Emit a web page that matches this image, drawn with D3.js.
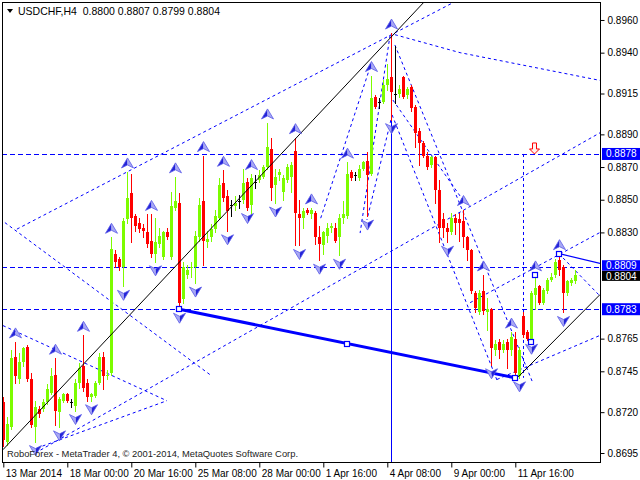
<!DOCTYPE html>
<html><head><meta charset="utf-8">
<script src="https://cdn.jsdelivr.net/npm/d3@7"></script>
<style>body{margin:0;background:#fff}svg{display:block}</style>
</head><body>
<svg id="chart" width="640" height="480"></svg>
<script>
// ---------- DATA ----------
const titleText = "USDCHF,H4  0.8800 0.8807 0.8799 0.8804";
const opens  = [0.8726,0.8702,0.8711,0.8754,0.8740,0.8751,0.8760,0.8740,0.8711,0.8722,0.8722,0.8726,0.8732,0.8743,0.8720,0.8727,0.8731,0.8726,0.8724,0.8738,0.8748,0.8738,0.8729,0.8730,0.8738,0.8754,0.8742,0.8744,0.8817,0.8814,0.8809,0.8838,0.8854,0.8840,0.8836,0.8833,0.8830,0.8825,0.8817,0.8823,0.8815,0.8830,0.8815,0.8845,0.8848,0.8789,0.8804,0.8808,0.8809,0.8827,0.8849,0.8824,0.8827,0.8832,0.8839,0.8860,0.8852,0.8847,0.8846,0.8849,0.8850,0.8861,0.8847,0.8861,0.8862,0.8864,0.8870,0.8881,0.8859,0.8865,0.8855,0.8862,0.8864,0.8880,0.8841,0.8839,0.8844,0.8841,0.8842,0.8827,0.8822,0.8828,0.8833,0.8833,0.8827,0.8839,0.8840,0.8867,0.8865,0.8863,0.8869,0.8874,0.8866,0.8913,0.8910,0.8910,0.8920,0.8925,0.8915,0.8915,0.8925,0.8914,0.8919,0.8907,0.8892,0.8885,0.8877,0.8871,0.8876,0.8856,0.8838,0.8833,0.8830,0.8839,0.8838,0.8837,0.8827,0.8819,0.8793,0.8781,0.8794,0.8781,0.8783,0.8758,0.8763,0.8758,0.8763,0.8758,0.8765,0.8742,0.8779,0.8769,0.8765,0.8792,0.8797,0.8787,0.8794,0.8801,0.8804,0.8813,0.8809,0.8793,0.8799,0.8800];
const highs  = [0.8729,0.8717,0.8758,0.8763,0.8756,0.8760,0.8761,0.8744,0.8727,0.8724,0.8728,0.8737,0.8747,0.8753,0.8729,0.8732,0.8732,0.8728,0.8740,0.8750,0.8767,0.8740,0.8732,0.8739,0.8756,0.8757,0.8746,0.8827,0.8819,0.8815,0.8839,0.8867,0.8866,0.8841,0.8839,0.8835,0.8841,0.8841,0.8839,0.8833,0.8831,0.8833,0.8855,0.8864,0.8854,0.8812,0.8810,0.8812,0.8831,0.8851,0.8877,0.8831,0.8835,0.8844,0.8863,0.8868,0.8856,0.8850,0.8852,0.8853,0.8869,0.8863,0.8866,0.8865,0.8868,0.8871,0.8897,0.8888,0.8869,0.8869,0.8865,0.8872,0.8873,0.8888,0.8850,0.8845,0.8845,0.8845,0.8843,0.8834,0.8831,0.8836,0.8836,0.8836,0.8841,0.8849,0.8873,0.8868,0.8867,0.8871,0.8874,0.8879,0.8926,0.8914,0.8912,0.8923,0.8933,0.8952,0.8944,0.8920,0.8926,0.8919,0.8920,0.8908,0.8894,0.8886,0.8879,0.8877,0.8877,0.8862,0.8842,0.8836,0.8842,0.8841,0.8842,0.8844,0.8828,0.8820,0.8794,0.8795,0.8804,0.8790,0.8784,0.8764,0.8765,0.8764,0.8765,0.8769,0.8769,0.8760,0.8781,0.8770,0.8794,0.8804,0.8798,0.8796,0.8802,0.8805,0.8814,0.8817,0.8810,0.8801,0.8802,0.8807];
const lows   = [0.8699,0.8700,0.8710,0.8738,0.8738,0.8748,0.8739,0.8711,0.8702,0.8717,0.8721,0.8725,0.8731,0.8712,0.8711,0.8726,0.8726,0.8723,0.8721,0.8735,0.8733,0.8727,0.8727,0.8729,0.8737,0.8734,0.8740,0.8743,0.8809,0.8807,0.8797,0.8836,0.8824,0.8831,0.8830,0.8827,0.8821,0.8815,0.8812,0.8821,0.8814,0.8826,0.8814,0.8844,0.8783,0.8787,0.8802,0.8803,0.8799,0.8825,0.8810,0.8821,0.8825,0.8830,0.8838,0.8849,0.8831,0.8840,0.8844,0.8845,0.8848,0.8844,0.8840,0.8857,0.8861,0.8863,0.8869,0.8850,0.8848,0.8862,0.8850,0.8861,0.8855,0.8822,0.8822,0.8833,0.8841,0.8839,0.8823,0.8813,0.8817,0.8824,0.8830,0.8824,0.8816,0.8836,0.8839,0.8862,0.8862,0.8862,0.8868,0.8840,0.8865,0.8906,0.8906,0.8909,0.8917,0.8899,0.8909,0.8913,0.8912,0.8912,0.8904,0.8882,0.8871,0.8876,0.8869,0.8870,0.8848,0.8824,0.8827,0.8824,0.8829,0.8829,0.8825,0.8821,0.8813,0.8793,0.8781,0.8780,0.8780,0.8770,0.8749,0.8755,0.8753,0.8757,0.8747,0.8755,0.8741,0.8741,0.8766,0.8764,0.8764,0.8783,0.8786,0.8786,0.8793,0.8800,0.8803,0.8804,0.8781,0.8792,0.8798,0.8799];
const closes = [0.8703,0.8713,0.8753,0.8742,0.8751,0.8759,0.8740,0.8712,0.8723,0.8719,0.8726,0.8734,0.8742,0.8721,0.8728,0.8731,0.8727,0.8726,0.8738,0.8747,0.8735,0.8729,0.8731,0.8738,0.8754,0.8742,0.8743,0.8820,0.8812,0.8809,0.8837,0.8851,0.8839,0.8834,0.8832,0.8831,0.8823,0.8817,0.8824,0.8828,0.8830,0.8827,0.8846,0.8849,0.8787,0.8809,0.8807,0.8809,0.8828,0.8847,0.8825,0.8826,0.8832,0.8840,0.8859,0.8851,0.8843,0.8847,0.8848,0.8849,0.8860,0.8845,0.8863,0.8861,0.8865,0.8870,0.8882,0.8857,0.8864,0.8867,0.8863,0.8870,0.8871,0.8842,0.8839,0.8843,0.8842,0.8844,0.8827,0.8823,0.8830,0.8833,0.8834,0.8825,0.8839,0.8841,0.8866,0.8863,0.8865,0.8869,0.8873,0.8865,0.8912,0.8907,0.8910,0.8920,0.8924,0.8916,0.8915,0.8918,0.8913,0.8918,0.8906,0.8891,0.8885,0.8877,0.8870,0.8876,0.8856,0.8833,0.8833,0.8830,0.8839,0.8836,0.8836,0.8827,0.8819,0.8794,0.8784,0.8793,0.8782,0.8783,0.8759,0.8762,0.8758,0.8762,0.8758,0.8766,0.8744,0.8758,0.8767,0.8765,0.8793,0.8796,0.8787,0.8795,0.8801,0.8803,0.8812,0.8807,0.8793,0.8800,0.8801,0.8804];

const xTickBars   = [0,16,32,48,64,80,96,112,128];
const xTickLabels = ["13 Mar 2014","18 Mar 00:00","20 Mar 16:00","25 Mar 08:00","28 Mar 00:00","1 Apr 16:00","4 Apr 08:00","9 Apr 00:00","11 Apr 16:00"];
const yTicks = [0.8960,0.8940,0.8915,0.8890,0.8870,0.8850,0.8830,0.8765,0.8745,0.8720,0.8695];
const levelLines = [0.8878,0.8809,0.8783];
const lastPrice = 0.8804;

const upFractals   = [3,13,20,27,31,37,43,50,55,62,66,73,77,86,92,97,115,120,127,133,139];
const downFractals = [8,14,18,22,30,38,44,48,56,61,68,74,79,84,91,97,111,122,129,132,140];

// dotted trend lines: [bar, price] anchors
const dottedLines = [
  [[3.4,0.8832],[116.7,0.8976]],
  [[0.4,0.8836],[52.2,0.8742]],
  [[-0.1,0.8773],[40.9,0.8727]],
  [[8.4,0.8698],[40.9,0.8727]],
  [[8.0,0.8695],[149.2,0.8891]],
  [[116.7,0.8787],[149.2,0.8830]],
  [[123.4,0.8740],[149.2,0.8767]],
  [[97.9,0.8951],[114.2,0.8940],[149.2,0.8923]],
  [[138.9,0.8817],[149.2,0.8791]],
  [[97.9,0.89447],[132.4,0.87378]],
  [[97.2,0.89019],[123.4,0.87397]],
  [[97.4,0.89110],[114.9,0.88498]],
  [[96.9,0.88988],[90.9,0.88376]],
  [[96.7,0.89508],[89.2,0.88296]],
  [[91.7,0.89312],[79.2,0.88376]]
];
const verticalDashed = [[130.0,0.8878,0.8741]];
const blackLines = [
  [[-0.1,0.8697],[105.2,0.8971]],
  [[128.7,0.87415],[149.2,0.8792]]
];
const thickLine = [[44,0.8783],[128,0.8741]];
const thinBlueLine = [[139,0.8817],[149.2,0.8811]];
const verticalSolid = {bar:97, from:0.8952};
const squares = [[44,0.8783],[86,0.8762],[128,0.8741],[132,0.8763],[133,0.8804],[139,0.8817]];
const sellArrow = [132.8,0.8878];

// ---------- DRAW ----------
const svg = d3.select("#chart");
const L=2,R=600,T=2,B=462;
const x = d3.scaleLinear().domain([0,149.175]).range([3.3,600]);
const y = d3.scaleLinear().domain([0.86895,0.89710]).range([B,T]);
const font = "Liberation Sans, Arial, sans-serif";
const BLUE = "#0000ff", GREEN="#7cfc00", RED="#ff0000";

svg.append("rect").attr("width",640).attr("height",480).attr("fill","#fff");
svg.append("clipPath").attr("id","clip").append("rect").attr("x",L).attr("y",T).attr("width",R-L).attr("height",B-T);
const g = svg.append("g").attr("clip-path","url(#clip)");

const line = d3.line().x(d=>x(d[0])).y(d=>y(d[1]));

dottedLines.forEach(pts=>{
  g.append("path").attr("d",line(pts)).attr("fill","none").attr("stroke",BLUE)
   .attr("stroke-width",1).attr("stroke-dasharray","3,3");
});
verticalDashed.forEach(v=>{
  g.append("line").attr("x1",Math.round(x(v[0]))+0.5).attr("x2",Math.round(x(v[0]))+0.5)
   .attr("y1",y(v[1])).attr("y2",y(v[2])).attr("stroke",BLUE).attr("stroke-dasharray","3,3");
});
levelLines.forEach(p=>{
  const yy=Math.round(y(p))+0.5;
  g.append("line").attr("x1",L).attr("x2",R).attr("y1",yy).attr("y2",yy)
   .attr("stroke",BLUE).attr("stroke-dasharray","5,3");
});
g.append("line").attr("x1",Math.round(x(verticalSolid.bar))+0.5).attr("x2",Math.round(x(verticalSolid.bar))+0.5)
  .attr("y1",y(verticalSolid.from)).attr("y2",B).attr("stroke",BLUE).attr("stroke-width",1);

// candles
const idx = d3.range(opens.length);
const cg = g.append("g");
idx.forEach(i=>{
  const o=opens[i],h=highs[i],l=lows[i],c=closes[i];
  const col = c>o?GREEN:(c<o?RED:"#000");
  const cx = Math.round(x(i))+0.5;
  cg.append("line").attr("x1",cx).attr("x2",cx).attr("y1",Math.round(y(h))).attr("y2",Math.round(y(l))+1)
    .attr("stroke",col).attr("stroke-width",1);
  const y0=Math.round(y(Math.max(o,c))), y1=Math.round(y(Math.min(o,c)));
  cg.append("rect").attr("x",cx-1.5).attr("y",y0).attr("width",3).attr("height",Math.max(1,y1-y0))
    .attr("fill",col);
});

blackLines.forEach(pts=>{
  g.append("path").attr("d",line(pts)).attr("fill","none").attr("stroke","#000").attr("stroke-width",1);
});
g.append("path").attr("d",line(thickLine)).attr("stroke",BLUE).attr("stroke-width",3).attr("fill","none");
g.append("path").attr("d",line(thinBlueLine)).attr("stroke",BLUE).attr("stroke-width",1.2).attr("fill","none");

const upArrow = (cx,cy)=>{
  const a=g.append("g").attr("transform",`translate(${cx},${cy})`);
  a.append("path").attr("d","M0,-5 L0,2 L-6,5 Z").attr("fill","#2424d8");
  a.append("path").attr("d","M0,-5 L6,5 L0,2 Z").attr("fill","#a8a8f4");
  a.append("path").attr("d","M0,-5 L6,5 L0,2 L-6,5 Z").attr("fill","none").attr("stroke","#5a5ae8").attr("stroke-width",0.8);
};
const downArrow = (cx,cy)=>{
  const a=g.append("g").attr("transform",`translate(${cx},${cy})`);
  a.append("path").attr("d","M0,5 L0,-2 L6,-5 Z").attr("fill","#2424d8");
  a.append("path").attr("d","M0,5 L-6,-5 L0,-2 Z").attr("fill","#a8a8f4");
  a.append("path").attr("d","M0,5 L-6,-5 L0,-2 L6,-5 Z").attr("fill","none").attr("stroke","#5a5ae8").attr("stroke-width",0.8);
};
upFractals.forEach(i=>upArrow(Math.round(x(i))+0.5, y(highs[i])-9));
downFractals.forEach(i=>downArrow(Math.round(x(i))+0.5, y(lows[i])+9));

squares.forEach(s=>{
  g.append("rect").attr("x",Math.round(x(s[0]))-2.5).attr("y",Math.round(y(s[1]))-2.5).attr("width",5).attr("height",5)
   .attr("fill","#fff").attr("stroke",BLUE).attr("stroke-width",1.2);
});

{
  const sx=x(sellArrow[0]), sy=y(sellArrow[1]);
  g.append("path").attr("transform",`translate(${sx},${sy})`)
   .attr("d","M0,0 L-5,-5 L-2,-5 L-2,-11 L2,-11 L2,-5 L5,-5 Z")
   .attr("fill","#fff0f0").attr("stroke",RED).attr("stroke-width",1);
}

// frame
svg.append("line").attr("x1",L+0.5).attr("x2",L+0.5).attr("y1",T).attr("y2",B).attr("stroke","#000");
svg.append("line").attr("x1",R+0.5).attr("x2",R+0.5).attr("y1",T).attr("y2",B+1).attr("stroke","#000");
svg.append("line").attr("x1",L).attr("x2",R+1).attr("y1",B+0.5).attr("y2",B+0.5).attr("stroke","#000");
svg.append("line").attr("x1",L).attr("x2",R+1).attr("y1",T+0.5).attr("y2",T+0.5).attr("stroke","#000");

// right axis
const yAxis = d3.axisRight(y).tickValues(yTicks).tickFormat(d3.format(".4f")).tickSize(4).tickPadding(3);
const ya = svg.append("g").attr("transform",`translate(${R+0.5},0)`).call(yAxis);
ya.select(".domain").remove();
ya.selectAll("text").attr("font-family",font).attr("font-size",10).attr("fill","#000");
ya.selectAll("line").attr("stroke","#000");

// bottom axis
const xAxis = d3.axisBottom(x).tickValues(xTickBars).tickFormat((d,i)=>xTickLabels[i]).tickSize(5).tickPadding(2);
const xa = svg.append("g").attr("transform",`translate(0,${B+0.5})`).call(xAxis);
xa.select(".domain").remove();
xa.selectAll("text").attr("font-family",font).attr("font-size",10).attr("fill","#000").attr("text-anchor","start").attr("dx",2);
xa.selectAll("line").attr("stroke","#000");

// price labels
const boxLabel=(p,bg,top,bottom,base)=>{
  const yy=y(p);
  svg.append("rect").attr("x",602).attr("y",yy-top).attr("width",38).attr("height",top+bottom).attr("fill",bg);
  svg.append("text").attr("x",606).attr("y",yy+base).attr("font-family",font).attr("font-size",10)
    .attr("fill","#fff").text(d3.format(".4f")(p));
};
boxLabel(levelLines[0],BLUE,6,6,3.5);
boxLabel(levelLines[1],BLUE,6.5,4,2);
boxLabel(levelLines[2],BLUE,6,6,3.5);
boxLabel(lastPrice,"#000",4,6,5);

// title
svg.append("path").attr("d","M7,9 L13,9 L10,13 Z").attr("fill","#000");
svg.append("text").attr("x",18).attr("y",15).attr("font-family",font).attr("font-size",10.5).attr("fill","#000")
  .style("white-space","pre").text(titleText);
// watermark
svg.append("text").attr("x",7).attr("y",457).attr("font-family",font).attr("font-size",9.5).attr("fill","#222")
  .attr("textLength",291).attr("lengthAdjust","spacingAndGlyphs")
  .text("RoboForex - MetaTrader 4, © 2001-2014, MetaQuotes Software Corp.");
</script>
</body></html>
